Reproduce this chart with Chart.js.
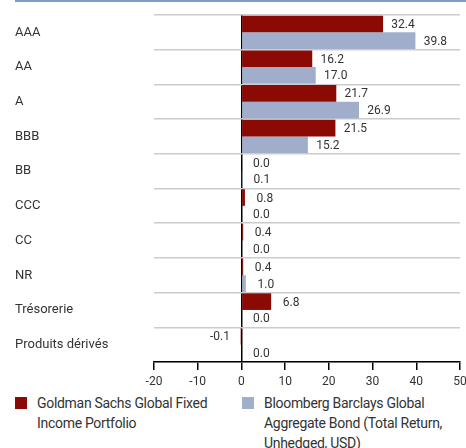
<!DOCTYPE html>
<html>
<head>
<meta charset="utf-8">
<script src="https://cdn.jsdelivr.net/npm/chart.js@4"></script>
<style>
  body { margin: 0; background: #fff; font-family: Roboto, sans-serif; color: #333; }
  #wrap { position: relative; width: 466px; height: 448px; overflow: hidden; }
  #topline { position: absolute; left: 15px; right: 0; top: 0; height: 2px; background: #7f9bc4; }
  #box { position: absolute; left: 0; top: 0; width: 466px; height: 392px; }
  #legend { position: absolute; top: 393px; left: 0; width: 466px; font-size: 14px; line-height: 20px; letter-spacing: -0.3px; }
  .item { position: absolute; top: 0; }
  .sw { position: absolute; top: 4px; width: 12px; height: 12px; }
  .txt { position: absolute; left: 22px; white-space: nowrap; }
</style>
</head>
<body>
<div id="wrap">
  <div id="topline"></div>
  <div id="box"><canvas id="chart"></canvas></div>
  <div id="legend"></div>
</div>
<script>
const categories = ['AAA', 'AA', 'A', 'BBB', 'BB', 'CCC', 'CC', 'NR', 'Trésorerie', 'Produits dérivés'];
const fundValues = [32.4, 16.2, 21.7, 21.5, 0.0, 0.8, 0.4, 0.4, 6.8, -0.1];
const indexValues = [39.8, 17.0, 26.9, 15.2, 0.1, 0.0, 0.0, 1.0, 0.0, 0.0];
const seriesNames = ['Goldman Sachs Global Fixed<br>Income Portfolio', 'Bloomberg Barclays Global<br>Aggregate Bond (Total Return,<br>Unhedged, USD)'];
const colors = ['#8b0a03', '#a0aecb'];

const font = 'Roboto, sans-serif';

// value labels next to each bar
const valueLabels = {
  id: 'valueLabels',
  afterDatasetsDraw(chart) {
    const ctx = chart.ctx;
    const zero = chart.scales.x.getPixelForValue(0);
    ctx.save();
    ctx.font = '12px ' + font;
    ctx.fillStyle = '#333';
    ctx.textAlign = 'center';
    ctx.textBaseline = 'middle';
    chart.data.datasets.forEach((ds, i) => {
      chart.getDatasetMeta(i).data.forEach((el, j) => {
        const v = ds.data[j];
        const x = v < 0 ? Math.min(el.x, zero) - 21 : Math.max(el.x, zero) + 20;
        ctx.fillText(v.toFixed(1), x, el.y + 1);
      });
    });
    ctx.restore();
  }
};

new Chart(document.getElementById('chart'), {
  type: 'bar',
  data: {
    labels: categories,
    datasets: [
      { label: 'Goldman Sachs Global Fixed Income Portfolio', data: fundValues, backgroundColor: colors[0] },
      { label: 'Bloomberg Barclays Global Aggregate Bond (Total Return, Unhedged, USD)', data: indexValues, backgroundColor: colors[1] }
    ]
  },
  options: {
    indexAxis: 'y',
    responsive: true,
    maintainAspectRatio: false,
    animation: false,
    datasets: { bar: { categoryPercentage: 0.96, barPercentage: 1 } },
    layout: { padding: { left: 15, right: 6, top: 15, bottom: 0 } },
    plugins: { legend: { display: false }, tooltip: { enabled: false } },
    scales: {
      x: {
        min: -20, max: 50,
        ticks: { stepSize: 10, color: '#333', font: { family: font, size: 12 }, padding: 5 },
        grid: {
          color: c => c.tick && c.tick.value === 0 ? '#000' : 'transparent',
          tickColor: '#000', tickLength: 8, lineWidth: 1.5
        },
        border: { display: true, color: '#000', width: 1.5 },
        afterFit(s) { s.height = 30; s.paddingLeft = 0; s.paddingRight = 0; }
      },
      y: {
        ticks: { color: '#333', font: { family: font, size: 13 }, crossAlign: 'far', padding: 0 },
        grid: { color: '#cccccc', lineWidth: 1.5, drawTicks: false },
        border: { display: false },
        afterFit(s) { s.width = 139; s.paddingTop = 0; s.paddingBottom = 0; }
      }
    }
  },
  plugins: [valueLabels]
});

// legend
const legend = document.getElementById('legend');
const lefts = [15, 242];
seriesNames.forEach((name, i) => {
  const it = document.createElement('div');
  it.className = 'item';
  it.style.left = lefts[i] + 'px';
  it.innerHTML = `<div class="sw" style="background:${colors[i]}"></div><div class="txt">${name}</div>`;
  legend.appendChild(it);
});
</script>
</body>
</html>
